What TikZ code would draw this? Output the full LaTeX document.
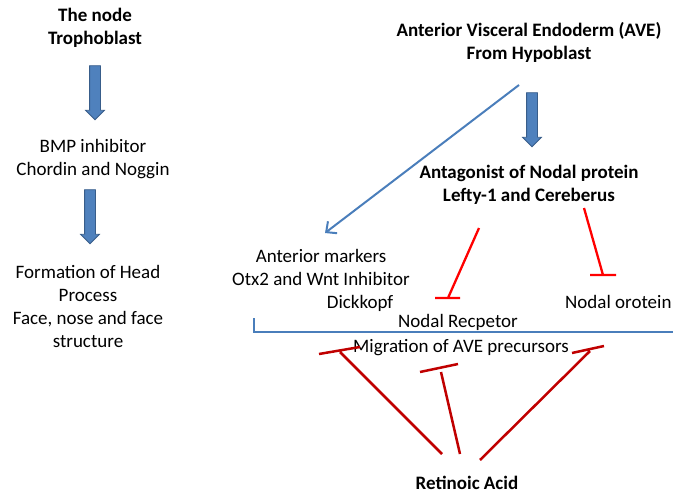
\documentclass[tikz,border=0pt]{standalone}
\usepackage{fontspec}
\setmainfont{Carlito}
\usetikzlibrary{arrows,arrows.meta,positioning,shapes.arrows}
\definecolor{arrowfill}{RGB}{79,129,189}
\definecolor{arrowedge}{RGB}{56,93,138}
\definecolor{lineblue}{RGB}{74,126,187}
\definecolor{inhred}{RGB}{255,0,0}
\definecolor{darkred}{RGB}{192,0,0}

\begin{document}
\begin{tikzpicture}[%
        x=1pt, y=-1pt,
        every node/.style={align=center, inner sep=1pt, font=\fontsize{19}{23}\selectfont},
        title/.style={font=\fontsize{19}{23}\selectfont\bfseries},
        blockarrow/.style={single arrow, draw=arrowedge, fill=arrowfill, rotate=-90, line width=0.8pt,
          minimum height=54pt, inner xsep=0pt, inner ysep=5pt,
          single arrow head extend=4pt, single arrow head indent=0pt},
        inhibit/.style={draw=inhred, line width=2.3pt},
        inhibitdark/.style={draw=darkred, line width=2.5pt},
        >={Straight Barb[length=8pt,width=15pt]}
      ]
      \useasboundingbox (0,0) rectangle (673,493);
      % left column
      \node [title] (troph) at (95,28) {The node\\Trophoblast};
      \node [blockarrow] (a1) at (95,90) {};
      \node [] (bmp) at (93,159) {BMP inhibitor\\Chordin and Noggin};
      \node [blockarrow] (a2) at (90,214) {};
      \node [] (head) at (88,306) {Formation of Head\\Process\\Face, nose and face\\structure};
      % right column
      \node [title] (ave) at (529,42) {Anterior Visceral Endoderm (AVE)\\From Hypoblast};
      \node [blockarrow] (a3) at (532,117) {};
      \node [title] (antag) at (529,185) {Antagonist of Nodal protein\\Lefty-1 and Cereberus};
      \node [] (markers) at (321,280) {Anterior markers\\Otx2 and Wnt Inhibitor\\\hspace*{78pt}Dickkopf};
      \node [anchor=west] (nodalp) at (564,302) {Nodal orotein};
      \node [] (recep) at (458,322) {Nodal Recpetor};
      \node [] (migr) at (461,348) {Migration of AVE precursors};
      \node [title] (ra) at (467,483) {Retinoic Acid};
      % blue line and bracket
      \coordinate (avefoot) at (519,85);
      \coordinate (marktip) at (325,233);
      \draw [lineblue, line width=2pt, ->] (avefoot) -- (marktip);
      \coordinate (brtop) at (254,318);
      \coordinate (brleft) at (254,332);
      \coordinate (brright) at (673,332);
      \draw [lineblue, line width=1.6pt] (brtop) -- (brleft) -- (brright);
      % inhibitions from the antagonists
      \coordinate (i1) at (479,228); \coordinate (t1) at (448,298);
      \coordinate (i2) at (584,208); \coordinate (t2) at (603,275);
      \path [inhibit] (i1) -- (t1) (435,298) -- (460,298)
      (i2) -- (t2) (590,275) -- (616,275);
      % inhibitions from retinoic acid
      \coordinate (r1) at (442,454); \coordinate (s1) at (340,352);
      \coordinate (r2) at (460,454); \coordinate (s2) at (441,372);
      \coordinate (r3) at (480,460); \coordinate (s3) at (590,351);
      \path [inhibitdark] (r1) -- (s1) (319,354) -- (360,347)
      (r2) -- (s2) (420,372) -- (458,364)
      (r3) -- (s3) (572,353) -- (604,346);
    \end{tikzpicture}
\end{document}
